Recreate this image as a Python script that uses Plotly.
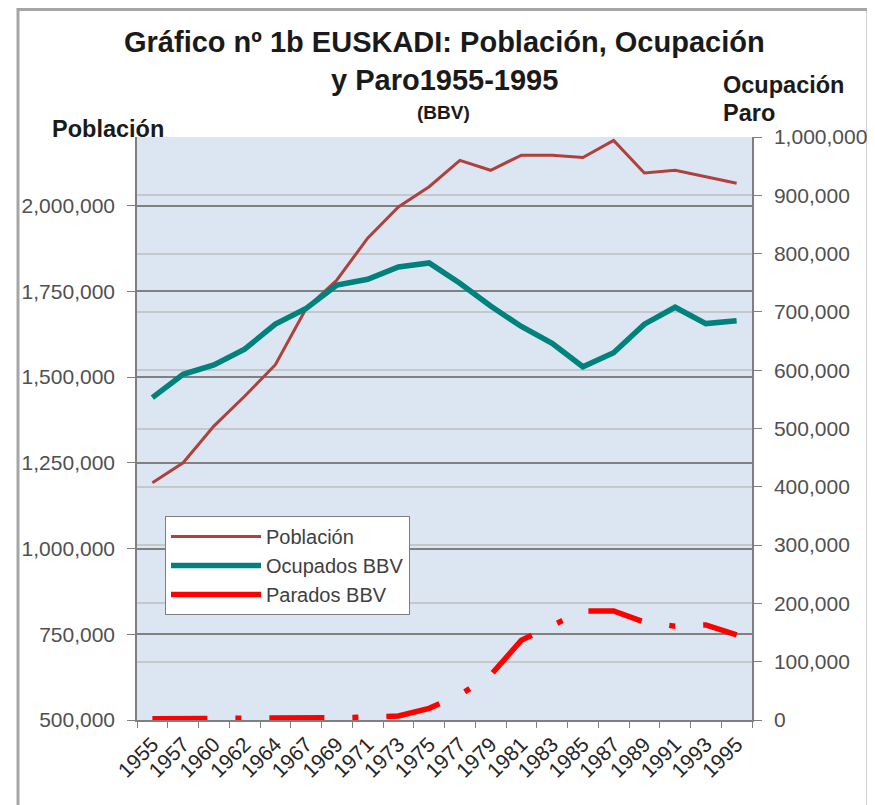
import plotly.graph_objects as go

years = ["1955", "1957", "1960", "1962", "1964", "1967", "1969", "1971", "1973", "1975",
         "1977", "1979", "1981", "1983", "1985", "1987", "1989", "1991", "1993", "1995"]

poblacion = [1192000, 1250000, 1357000, 1444000, 1536000, 1700000, 1783000, 1905000, 1996000, 2055000,
             2132000, 2103000, 2147000, 2147000, 2140000, 2190000, 2095000, 2103000, 2084000, 2065000]

ocupados = [553000, 593000, 609000, 636000, 679000, 706000, 746000, 756000, 777000, 784000,
            749000, 710000, 675000, 646000, 606000, 630000, 679000, 708000, 680000, 685000]

parados = [2000, 2000, 3000, 3000, 3000, 4000, 4000, 5000, 7000, 20000,
           43000, 77000, 137000, 162000, 187000, 187000, 168000, 161000, 163000, 146000]

left_ticks = [500000, 750000, 1000000, 1250000, 1500000, 1750000, 2000000]
right_ticks = [0, 100000, 200000, 300000, 400000, 500000, 600000, 700000, 800000, 900000, 1000000]

FONT = "Liberation Sans, Arial, sans-serif"

# page offset of the figure (body margin)
OFF = 8
W, H = 875 - OFF, 805 - OFF
# plot area in page pixels
L, R, T, B = 137, 752, 137, 720


def px(x):
    return (x - L) / (R - L)


def py(y):
    return (B - y) / (B - T)


fig = go.Figure()
fig.add_trace(go.Scatter(x=years, y=poblacion, name="Población", mode="lines",
                         line=dict(color="#B0403C", width=3), yaxis="y"))
fig.add_trace(go.Scatter(x=years, y=ocupados, name="Ocupados BBV", mode="lines",
                         line=dict(color="#00827C", width=5.5), yaxis="y2"))
fig.add_trace(go.Scatter(x=years, y=parados, name="Parados BBV", mode="lines",
                         line=dict(color="#FF0000", width=5.5, dash="55px,28px,6px,28px"),
                         yaxis="y2", showlegend=False, legendgroup="par"))
# legend sample for Parados (solid short line, as in the original)
fig.add_trace(go.Scatter(x=[None], y=[None], name="Parados BBV", mode="lines",
                         line=dict(color="#FF0000", width=5.5), yaxis="y2",
                         legendgroup="par"))

fig.update_layout(
    width=W, height=H,
    margin=dict(l=L - OFF, r=875 - R, t=T - OFF, b=805 - B, autoexpand=False),
    paper_bgcolor="white",
    plot_bgcolor="#DCE6F2",
    font=dict(family=FONT, size=19, color="#404040"),
    showlegend=True,
    legend=dict(x=px(165), y=py(516), xanchor="left", yanchor="top",
                bgcolor="white", bordercolor="#7F7F7F", borderwidth=1,
                font=dict(size=20, color="#404040", family=FONT),
                tracegroupgap=0, itemwidth=90),
    xaxis=dict(type="category", range=[-0.5, 19.5], tickangle=-45,
               tickson="boundaries", ticks="outside", ticklen=6, tickcolor="#7F7F7F",
               showline=True, linecolor="#7F7F7F", linewidth=1.5, showgrid=False,
               ticklabelstandoff=2,
               tickfont=dict(size=21, color="#262626", family=FONT)),
    yaxis=dict(range=[500000, 2200000], tickvals=left_ticks, tickformat=",",
               ticks="outside", ticklen=8, tickcolor="#7F7F7F",
               showline=True, linecolor="#7F7F7F", linewidth=1.5,
               showgrid=True, gridcolor="#808080", gridwidth=1.5, zeroline=False,
               ticklabelstandoff=8,
               tickfont=dict(size=21, color="#505050", family=FONT)),
    yaxis2=dict(range=[0, 1000000], tickvals=right_ticks, tickformat=",",
                overlaying="y", side="right",
                ticks="outside", ticklen=8, tickcolor="#7F7F7F",
                showline=True, linecolor="#7F7F7F", linewidth=1.5,
                showgrid=True, gridcolor="#C4C8CC", gridwidth=1.5, zeroline=False,
                ticklabelstandoff=8,
                tickfont=dict(size=21, color="#505050", family=FONT)),
)

annots = [
    dict(text="<b>Gráfico nº 1b EUSKADI: Población, Ocupación</b>", x=px(444), y=py(42), size=29),
    dict(text="<b>y Paro1955-1995</b>", x=px(444), y=py(80), size=29),
    dict(text="<b>(BBV)</b>", x=px(443), y=py(112), size=19),
]
for a in annots:
    fig.add_annotation(text=a["text"], x=a["x"], y=a["y"], xref="paper", yref="paper",
                       showarrow=False, xanchor="center", yanchor="middle",
                       font=dict(size=a["size"], color="#1A1A1A", family=FONT))

fig.add_annotation(text="<b>Población</b>", x=px(50), y=py(129), xref="paper", yref="paper",
                   showarrow=False, xanchor="left", yanchor="middle",
                   font=dict(size=23.5, color="#1A1A1A", family=FONT))
fig.add_annotation(text="<b>Ocupación</b>", x=px(721), y=py(85), xref="paper", yref="paper",
                   showarrow=False, xanchor="left", yanchor="middle",
                   font=dict(size=23.5, color="#1A1A1A", family=FONT))
fig.add_annotation(text="<b>Paro</b>", x=px(721), y=py(113), xref="paper", yref="paper",
                   showarrow=False, xanchor="left", yanchor="middle",
                   font=dict(size=23.5, color="#1A1A1A", family=FONT))

# outer chart border
fig.add_shape(type="rect", xref="paper", yref="paper",
              x0=px(18), x1=px(868), y0=py(812), y1=py(9.5),
              line=dict(color="#A6A6A6", width=3), layer="below")

fig.write_html("out.html")
